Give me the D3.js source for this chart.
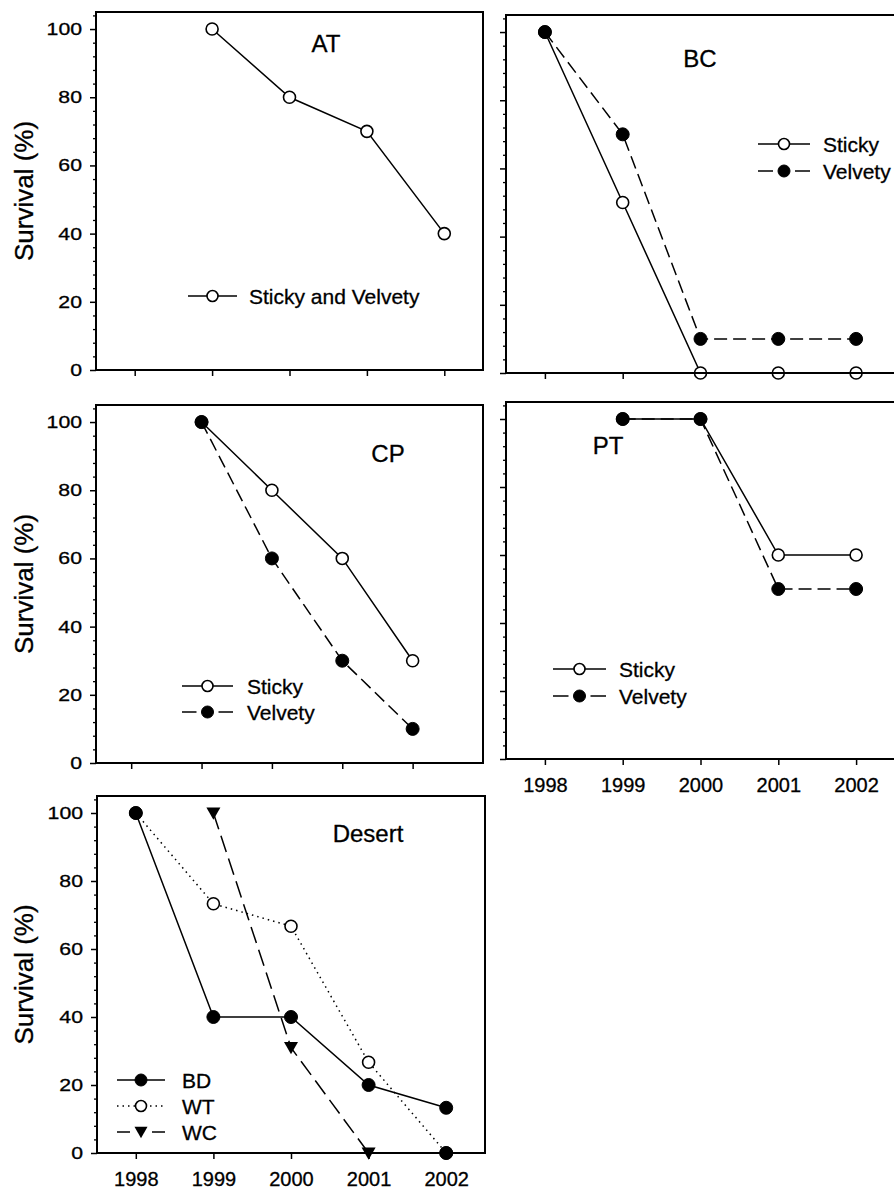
<!DOCTYPE html>
<html><head><meta charset="utf-8">
<script src="https://cdn.jsdelivr.net/npm/d3@7"></script>
<style>
html,body{margin:0;padding:0;background:#fff;}
text{font-family:"Liberation Sans",Arial,Helvetica,sans-serif;fill:#000;stroke:#000;stroke-width:0.3px;}
</style></head>
<body>
<svg id="chart" width="894" height="1189"></svg>
<script>
// ---------- DATA ----------
const years = [1998, 1999, 2000, 2001, 2002];
const yTicks = [0, 20, 40, 60, 80, 100];

const atYears = [1999, 2000, 2001, 2002];
const atStickyVelvety = [100, 80, 70, 40];

const bcYears = [1998, 1999, 2000, 2001, 2002];
const bcSticky = [100, 50, 0, 0, 0];
const bcVelvety = [100, 70, 10, 10, 10];

const cpYears = [1999, 2000, 2001, 2002];
const cpSticky = [100, 80, 60, 30];
const cpVelvety = [100, 60, 30, 10];

const ptYears = [1999, 2000, 2001, 2002];
const ptSticky = [100, 100, 60, 60];
const ptVelvety = [100, 100, 50, 50];

const desertYears = [1998, 1999, 2000, 2001, 2002];
const desertBD = [100, 40, 40, 20, 13.3];
const desertWT = [100, 73.3, 66.7, 26.7, 0];
const desertWCYears = [1999, 2000, 2001];
const desertWC = [100, 31, 0];
const desertExtraYears = [2002];
const desertExtra = [0];

// ---------- STYLES ----------
const STYLE = {
  solid:  {dash: null},
  dashed: {dash: "13,6"},
  longdash: {dash: "17,7"},
  dotted: {dash: "1.5,4"}
};

const svg = d3.select("#chart");

const panels = [
  {title:"AT", left:96, right:483, top:12, bottom:370, xd:[1997.5,2002.5], yLab:true, xLab:false, tx:326, ty:52,
   series:[{xs:atYears, ys:atStickyVelvety, line:"solid", marker:"open"}],
   legend:{x0:188, x1:237, tx:249, rows:[{y:296, name:"Sticky and Velvety", line:"solid", marker:"open"}]}},
  {title:"BC", left:506, right:895, top:15, bottom:373, xd:[1997.5,2002.5], yLab:false, xLab:false, tx:700, ty:67,
   series:[{xs:bcYears, ys:bcSticky, line:"solid", marker:"open"},
           {xs:bcYears, ys:bcVelvety, line:"dashed", marker:"filled"}],
   legend:{x0:758, x1:810, tx:823, rows:[{y:144, name:"Sticky", line:"solid", marker:"open"},
                                          {y:171, name:"Velvety", line:"dashed", marker:"filled"}]}},
  {title:"CP", left:96, right:483, top:405, bottom:763, xd:[1997.5,2003], yLab:true, xLab:false, tx:388, ty:462,
   series:[{xs:cpYears, ys:cpSticky, line:"solid", marker:"open"},
           {xs:cpYears, ys:cpVelvety, line:"dashed", marker:"filled"}],
   legend:{x0:182, x1:233, tx:247, rows:[{y:686, name:"Sticky", line:"solid", marker:"open"},
                                          {y:712, name:"Velvety", line:"dashed", marker:"filled"}]}},
  {title:"PT", left:506, right:895, top:402, bottom:759, xd:[1997.5,2002.5], yLab:false, xLab:true, tx:608, ty:454,
   series:[{xs:ptYears, ys:ptSticky, line:"solid", marker:"open"},
           {xs:ptYears, ys:ptVelvety, line:"dashed", marker:"filled"}],
   legend:{x0:553, x1:606, tx:619, rows:[{y:669, name:"Sticky", line:"solid", marker:"open"},
                                          {y:696, name:"Velvety", line:"dashed", marker:"filled"}]}},
  {title:"Desert", left:97, right:485, top:796, bottom:1153, xd:[1997.5,2002.5], yLab:true, xLab:true, tx:368, ty:842,
   series:[{xs:desertWCYears, ys:desertWC, line:"longdash", marker:"tri"},
           {xs:desertYears, ys:desertWT, line:"dotted", marker:"open"},
           {xs:desertYears, ys:desertBD, line:"solid", marker:"filled"},
           {xs:desertExtraYears, ys:desertExtra, line:null, marker:"filled"}],
   legend:{x0:117, x1:165, tx:182, rows:[{y:1080, name:"BD", line:"solid", marker:"filled"},
                                          {y:1106, name:"WT", line:"dotted", marker:"open"},
                                          {y:1132, name:"WC", line:"longdash", marker:"tri"}]}}
];

function drawMarker(g, type, x, y, r) {
  if (type === "open") {
    g.append("circle").attr("cx", x).attr("cy", y).attr("r", r)
      .attr("fill", "#fff").attr("stroke", "#000").attr("stroke-width", 1.6);
  } else if (type === "filled") {
    g.append("circle").attr("cx", x).attr("cy", y).attr("r", r + 0.5)
      .attr("fill", "#000").attr("stroke", "#000").attr("stroke-width", 1);
  } else if (type === "tri") {
    const s = r + 1;
    g.append("path").attr("d", `M${x - s},${y - s * 0.8} L${x + s},${y - s * 0.8} L${x},${y + s * 0.95} Z`)
      .attr("fill", "#000");
  }
}

panels.forEach(p => {
  const g = svg.append("g");
  const x = d3.scaleLinear().domain(p.xd).range([p.left, p.right]);
  const y = d3.scaleLinear().domain([0, 105]).range([p.bottom, p.top]);

  // minor y ticks
  const minor = d3.range(0, 105, 4).filter(v => v % 20 !== 0);
  g.append("g").attr("transform", `translate(${p.left},0)`)
    .call(d3.axisLeft(y).tickValues(minor).tickSize(3).tickFormat(""))
    .call(a => a.select(".domain").remove())
    .call(a => a.selectAll("line").attr("stroke-width", 1.3));

  // major y ticks
  const ya = g.append("g").attr("transform", `translate(${p.left},0)`)
    .call(d3.axisLeft(y).tickValues(yTicks).tickSize(6).tickPadding(8)
      .tickFormat(p.yLab ? d3.format("d") : ""));
  ya.select(".domain").remove();
  ya.selectAll("line").attr("stroke-width", 1.5);
  ya.selectAll("text").attr("font-size", 17)
    .attr("x", -14 / 1.25).attr("transform", "scale(1.25,1)")
    .attr("font-family", '"Liberation Sans",Arial,sans-serif');

  // x ticks
  const xa = g.append("g").attr("transform", `translate(0,${p.bottom})`)
    .call(d3.axisBottom(x).tickValues(years).tickSize(6).tickPadding(13)
      .tickFormat(p.xLab ? d3.format("d") : ""));
  xa.select(".domain").remove();
  xa.selectAll("line").attr("stroke-width", 1.5);
  xa.selectAll("text").attr("font-size", 20)
    .attr("font-family", '"Liberation Sans",Arial,sans-serif');

  // y label
  if (p.yLab) {
    g.append("text")
      .attr("transform", `translate(33,${(p.top + p.bottom) / 2}) rotate(-90)`)
      .attr("text-anchor", "middle").attr("font-size", 26).text("Survival (%)");
  }

  // title
  g.append("text").attr("x", p.tx).attr("y", p.ty).attr("text-anchor", "middle")
    .attr("font-size", 24).text(p.title);

  // series
  const line = d3.line().x(d => x(d[0])).y(d => y(d[1]));
  p.series.forEach(s => {
    const pts = s.xs.map((v, i) => [v, s.ys[i]]);
    if (s.line) {
      g.append("path").attr("d", line(pts)).attr("fill", "none")
        .attr("stroke", "#000").attr("stroke-width", 1.5)
        .attr("stroke-dasharray", STYLE[s.line].dash);
    }
  });
  p.series.forEach(s => {
    s.xs.forEach((v, i) => drawMarker(g, s.marker, x(v), y(s.ys[i]), 6));
  });

  // frame (drawn over markers, as in the reference)
  g.append("rect").attr("x", p.left).attr("y", p.top)
    .attr("width", p.right - p.left).attr("height", p.bottom - p.top)
    .attr("fill", "none").attr("stroke", "#000").attr("stroke-width", 2);

  // legend
  const L = p.legend;
  L.rows.forEach(r => {
    const mx = (L.x0 + L.x1) / 2;
    if (r.line === "dashed" || r.line === "longdash") {
      g.append("line").attr("x1", L.x0).attr("x2", mx - 11).attr("y1", r.y).attr("y2", r.y)
        .attr("stroke", "#000").attr("stroke-width", 1.5);
      g.append("line").attr("x1", mx + 11).attr("x2", L.x1).attr("y1", r.y).attr("y2", r.y)
        .attr("stroke", "#000").attr("stroke-width", 1.5);
    } else {
      g.append("line").attr("x1", L.x0).attr("x2", L.x1).attr("y1", r.y).attr("y2", r.y)
        .attr("stroke", "#000").attr("stroke-width", 1.5)
        .attr("stroke-dasharray", STYLE[r.line].dash);
    }
    drawMarker(g, r.marker, mx, r.y, 5.5);
    g.append("text").attr("x", L.tx).attr("y", r.y + 7.5).attr("font-size", 21).text(r.name);
  });
});
</script>
</body></html>
